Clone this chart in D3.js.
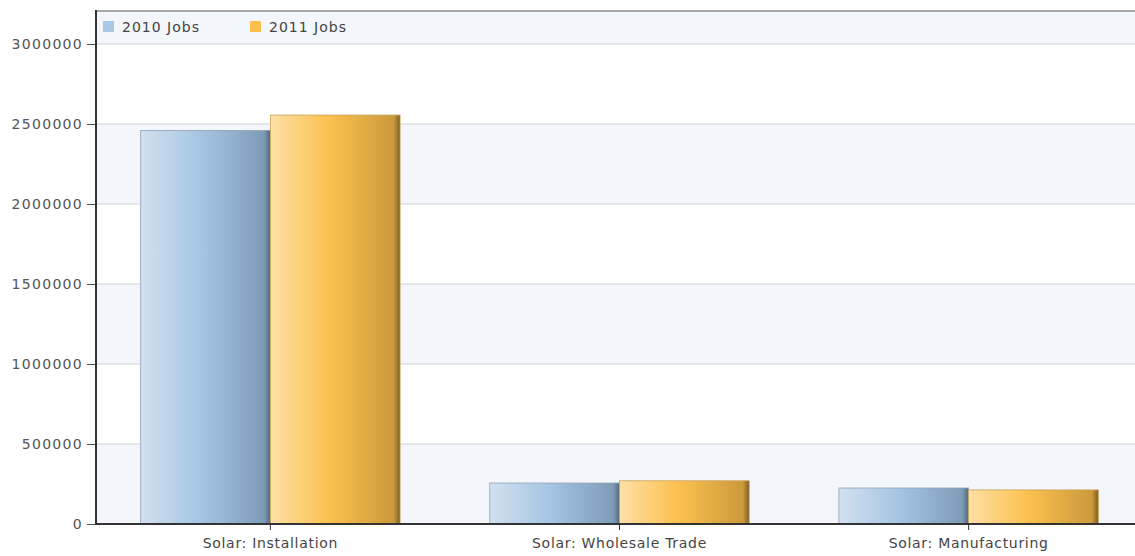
<!DOCTYPE html>
<html><head><meta charset="utf-8">
<script src="https://cdn.jsdelivr.net/npm/d3@7"></script>
<style>
body{margin:0;background:#fff;}
text{font-family:"DejaVu Sans",Verdana,sans-serif;}
</style></head>
<body><svg id="c" width="1135" height="556"></svg>
<script>
const categories = ["Solar: Installation", "Solar: Wholesale Trade", "Solar: Manufacturing"];
const seriesNames = ["2010 Jobs", "2011 Jobs"];
const jobs2010 = [2460000, 256000, 225000];
const jobs2011 = [2556000, 270000, 213000];
const yTicks = [0, 500000, 1000000, 1500000, 2000000, 2500000, 3000000];

(function(){
const svg = d3.select("#c");
const left = 96, right = 1143, plotTop = 44, bottom = 524, frameTop = 11;
const x0 = d3.scaleBand().domain(categories).range([left, right]).paddingInner(0.257).paddingOuter(0.128);
const x1 = d3.scaleBand().domain(seriesNames).range([0, x0.bandwidth()]);
const y = d3.scaleLinear().domain([0, 3000000]).range([bottom, plotTop]);

const defs = svg.append("defs");
function grad(id, stops){
  const g = defs.append("linearGradient").attr("id", id).attr("x1","0%").attr("x2","100%");
  stops.forEach(s => g.append("stop").attr("offset", s[0]).attr("stop-color", s[1]));
}
grad("gBlue", [["0%","#d3e1ef"],["45%","#a6c6e3"],["95%","#7f9cb7"],["100%","#52687f"]]);
grad("gOrange", [["0%","#fee0a6"],["45%","#fcc14f"],["95%","#cc9a3c"],["100%","#7e5e22"]]);

for (let i = 0; i < yTicks.length - 1; i++) {
  if (i % 2 === 0) {
    svg.append("rect").attr("x", left).attr("width", 1135 - left)
      .attr("y", y(yTicks[i+1])).attr("height", y(yTicks[i]) - y(yTicks[i+1]))
      .attr("fill", "#f3f6fb");
  }
}
svg.append("rect").attr("x", left).attr("y", frameTop).attr("width", 1135-left).attr("height", plotTop-frameTop).attr("fill","#f3f6fb");
svg.selectAll("line.grid").data(yTicks.slice(1)).join("line").attr("class","grid")
  .attr("x1", left).attr("x2", 1135).attr("y1", d => y(d)).attr("y2", d => y(d))
  .attr("stroke", "#dde1e6").attr("stroke-width", 1.5);
svg.append("line").attr("x1", left).attr("x2", 1135).attr("y1", frameTop).attr("y2", frameTop)
  .attr("stroke", "#a9a9a9").attr("stroke-width", 2);

const groups = svg.selectAll("g.cat").data(categories).join("g").attr("class","cat")
  .attr("transform", d => `translate(${x0(d)},0)`);
const fills = {"2010 Jobs": "url(#gBlue)", "2011 Jobs": "url(#gOrange)"};
const strokes = {"2010 Jobs": "#8ea3b8", "2011 Jobs": "#c8a35a"};
groups.selectAll("rect").data((d, i) => [
  {s: seriesNames[0], v: jobs2010[i]}, {s: seriesNames[1], v: jobs2011[i]}
]).join("rect")
  .attr("x", d => x1(d.s)).attr("width", x1.bandwidth())
  .attr("y", d => y(d.v)).attr("height", d => bottom - y(d.v))
  .attr("fill", d => fills[d.s]).attr("stroke", d => strokes[d.s]).attr("stroke-width", 0.8);

const yAxis = svg.append("g").attr("transform", `translate(${left},0)`)
  .call(d3.axisLeft(y).tickValues(yTicks).tickFormat(d3.format("d")).tickSize(9).tickPadding(4));
yAxis.select(".domain").remove();
yAxis.selectAll(".tick line").attr("stroke", "#555");
yAxis.selectAll("text").attr("fill", "#555").attr("font-size", 14).attr("letter-spacing", 1.3);
svg.append("line").attr("x1", left).attr("x2", left).attr("y1", frameTop-1).attr("y2", bottom+1)
  .attr("stroke", "#333").attr("stroke-width", 2);

const xAxis = svg.append("g").attr("transform", `translate(0,${bottom})`)
  .call(d3.axisBottom(x0).tickSize(6).tickPadding(8));
xAxis.select(".domain").remove();
xAxis.selectAll(".tick line").attr("stroke", "#333");
xAxis.selectAll("text").attr("fill", "#444").attr("font-size", 14).attr("letter-spacing", 0.7);
svg.append("line").attr("x1", left-1).attr("x2", 1135).attr("y1", bottom).attr("y2", bottom)
  .attr("stroke", "#333").attr("stroke-width", 2);

const legX = [103, 250];
const leg = svg.selectAll("g.leg").data(seriesNames).join("g").attr("class","leg")
  .attr("transform", (d, i) => `translate(${legX[i]},21)`);
leg.append("rect").attr("width", 11).attr("height", 11)
  .attr("fill", (d, i) => i === 0 ? "#a8c8e6" : "#fcc04e");
leg.append("text").attr("x", 19).attr("y", 10.5).attr("font-size", 14).attr("letter-spacing", 1).attr("fill", "#444").text(d => d);
})();
</script></body></html>
